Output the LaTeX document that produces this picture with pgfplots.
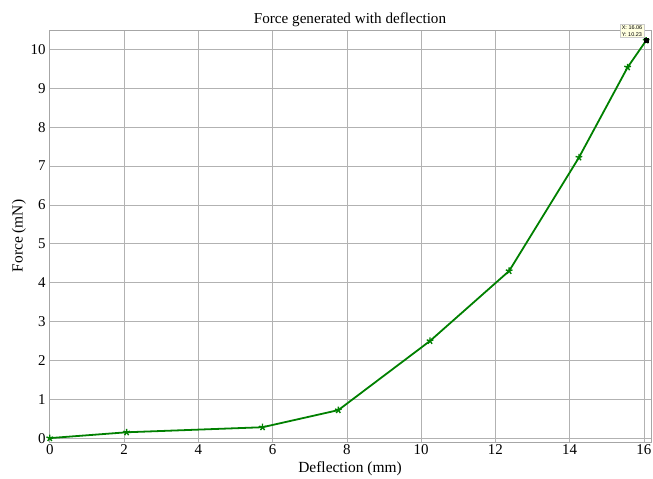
\documentclass[border=0pt]{standalone}
\usepackage{pgfplots}
\pgfplotsset{compat=1.18}
\usepackage{fontspec}
\setmainfont{Liberation Serif}
\setsansfont{Liberation Sans}
\definecolor{linegreen}{rgb}{0.0,0.5,0.0}
\definecolor{tipbg}{rgb}{1.0,1.0,0.88}
\begin{document}
\begin{tikzpicture}
\begin{axis}[
  name=ax,
  at={(0,0)}, anchor=south west,
  scale only axis,
  width=602bp, height=412bp,
  xmin=-0.02, xmax=16.19,
  ymin=-0.1, ymax=10.5,
  xtick={0,2,...,16},
  ytick={0,1,...,10},
  grid=major,
  grid style={gray!60, line width=0.6pt},
  axis line style={gray!70},
  tick style={draw=none},
  /pgf/number format/assume math mode=true,
  ticklabel style={font=\fontsize{15}{17}\selectfont},
  xticklabel style={yshift=1bp},
  xlabel={Deflection (mm)},
  ylabel={Force (mN)},
  label style={font=\fontsize{15.5}{17}\selectfont},
  xlabel style={at={(axis description cs:0.5,0)}, anchor=center, yshift=-27bp},
  ylabel style={at={(axis description cs:-0.05,0.5)}, anchor=center},
  title={Force generated with deflection},
  title style={font=\fontsize{15.2}{17}\selectfont, at={(axis description cs:0.5,1)}, anchor=center, yshift=4bp},
  clip=false,
]
\addplot[color=linegreen, line width=1.8pt, mark=star, mark size=3.5pt, mark options={line width=1.4pt}] coordinates {
(0,0) (2.07,0.15) (5.73,0.28) (7.77,0.72) (10.24,2.5) (12.37,4.3) (14.25,7.22) (15.56,9.54) (16.06,10.23)
};
\addplot[only marks, mark=square*, mark size=2pt, black] coordinates {(16.06,10.23)};
\node[anchor=south east, draw=gray!40, fill=tipbg, inner sep=1.5pt, align=left, font=\sffamily\fontsize{5.5}{6.5}\selectfont] at (axis cs:16.0,10.3) {X: 16.06\\Y: 10.23};
\end{axis}
\pgfresetboundingbox
\path (-49bp,-37bp) rectangle (604bp,442bp);
\end{tikzpicture}
\end{document}
